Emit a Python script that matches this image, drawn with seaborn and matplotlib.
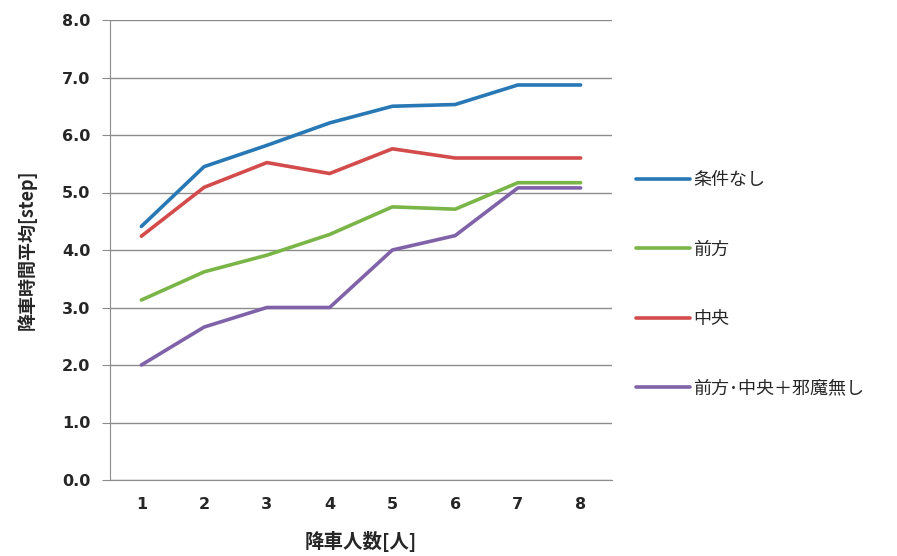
import matplotlib
matplotlib.use("Agg")
import matplotlib.pyplot as plt
import seaborn as sns
import pandas as pd

# 降車人数ごとの平均降車時間
people = [1, 2, 3, 4, 5, 6, 7, 8]
no_cond = [4.41, 5.45, 5.82, 6.21, 6.50, 6.53, 6.87, 6.87]
front = [3.13, 3.62, 3.91, 4.27, 4.75, 4.71, 5.17, 5.17]
center = [4.24, 5.09, 5.52, 5.33, 5.76, 5.60, 5.60, 5.60]
front_center = [2.00, 2.66, 3.00, 3.00, 4.00, 4.25, 5.08, 5.08]

names = ["条件なし", "前方", "中央", "前方･中央＋邪魔無し"]
colors = ["#2878b5", "#7ab547", "#d34b4b", "#8062a8"]

df = pd.DataFrame({"人数": people * 4,
                   "時間": no_cond + front + center + front_center,
                   "条件": [n for n in names for _ in people]})

sns.set_style("white")
plt.rcParams['font.family'] = ['Noto Sans CJK JP', 'DejaVu Sans']

fig = plt.figure(figsize=(8.97, 5.56), dpi=100)
ax = fig.add_axes([110/897, 1-480/556, 502/897, 460/556])

sns.lineplot(data=df, x="人数", y="時間", hue="条件", hue_order=names,
             palette=colors, linewidth=2.6, ax=ax, legend=True)

ax.set_xlim(0.5, 8.5)
ax.set_ylim(0, 8)
ax.set_xticks(people)
ax.set_yticks([i for i in range(9)])
ax.set_yticklabels([f"{i:.1f}" for i in range(9)])
ax.yaxis.grid(True, color="#8c8c8c", linewidth=1)
ax.set_axisbelow(True)
for s in ["top", "right"]:
    ax.spines[s].set_visible(False)
ax.spines["left"].set_color("#8c8c8c")
ax.spines["bottom"].set_color("#8c8c8c")
ax.tick_params(axis="y", length=6, color="#8c8c8c", direction="out", left=True, pad=8)
ax.tick_params(axis="x", length=0, pad=12)
for lab in ax.get_xticklabels() + ax.get_yticklabels():
    lab.set_fontweight("bold")
    lab.set_fontsize(11.5)
    lab.set_family("DejaVu Sans")

ax.set_xlabel("降車人数[人]", fontsize=14, fontweight="bold", labelpad=14)
ax.set_ylabel("降車時間平均[step]", fontsize=13, fontweight="bold", labelpad=18)

h, l = ax.get_legend_handles_labels()
ax.legend_.remove()
fig.legend(h, l, loc="upper left", bbox_to_anchor=(620/897, 1-155/556),
           frameon=False, fontsize=13, labelspacing=2.85, handlelength=3.0,
           handletextpad=0.15)

fig.savefig("out.png", dpi=100)
